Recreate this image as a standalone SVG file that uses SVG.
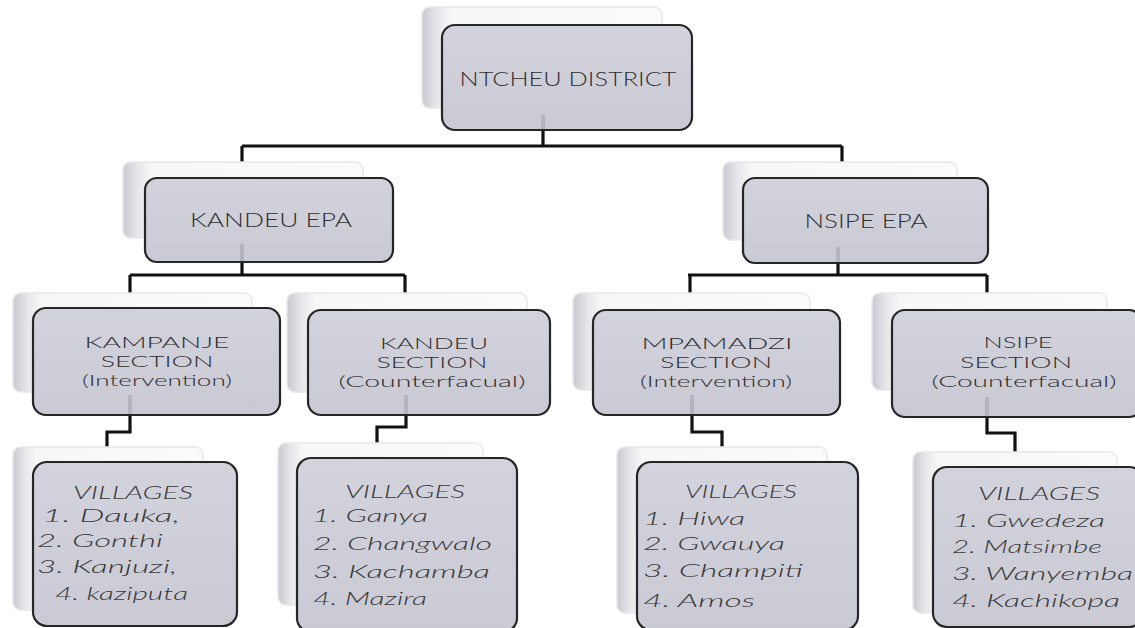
<svg xmlns="http://www.w3.org/2000/svg" width="1135" height="628" viewBox="0 0 1135 628">
<defs>
<linearGradient id="backGrad" x1="0" y1="0" x2="1" y2="0">
<stop offset="0" stop-color="#c8c8cf"/>
<stop offset="0.06" stop-color="#e6e6ea"/>
<stop offset="0.12" stop-color="#f7f7f8"/>
<stop offset="1" stop-color="#fbfbfb"/>
</linearGradient>
<linearGradient id="frontGrad" x1="0" y1="0" x2="0" y2="1">
<stop offset="0" stop-color="#d3d3dd"/>
<stop offset="1" stop-color="#cacad5"/>
</linearGradient>
<style>
.back{fill:url(#backGrad);stroke:#e8e8ea;stroke-width:1.5}
.front{fill:url(#frontGrad);stroke:#262626;stroke-width:2.2}
.hd{font-family:Lato,"Open Sans","DejaVu Sans",sans-serif;font-weight:300;fill:#2e2e2e;text-anchor:middle}
.h1{font-size:19px}
.h2{font-size:15px}
.vt{font-family:Lato,"Open Sans","DejaVu Sans",sans-serif;font-weight:300;font-style:italic;font-size:18px;fill:#383838}
.vh{text-anchor:middle}
.con{fill:none;stroke:#111;stroke-width:3.2}
.stub{fill:none;stroke:#b4b4c0;stroke-width:4}
</style>
</defs>
<rect width="1135" height="628" fill="#ffffff"/>

<g id="connectors">
<path class="con" d="M543,130 V146 M242,146 H842 M242,146 V163 M842,146 V163"/>
<path class="con" d="M242,262 V275 M130,275 H405 M130,275 V294 M405,275 V294"/>
<path class="con" d="M838,263 V275 M688,275 H987 M690,275 V294 M987,275 V294"/>
<path class="con" d="M130,415 V432 H107 V448"/>
<path class="con" d="M406,415 V427 H377 V444"/>
<path class="con" d="M692,415 V432 H722 V448"/>
<path class="con" d="M987,417 V433 H1015 V453"/>
</g>

<g id="ntcheu">
<rect class="back" x="422" y="7" width="240" height="101" rx="8"/>
<rect class="front" x="442" y="25" width="250" height="105" rx="13"/>
<line class="stub" x1="543" y1="115" x2="543" y2="129"/>
<text class="hd h1" x="568" y="86" textLength="217" lengthAdjust="spacingAndGlyphs">NTCHEU DISTRICT</text>
</g>

<g id="kandeu-epa">
<rect class="back" x="123" y="162" width="240" height="76" rx="8"/>
<rect class="front" x="145" y="178" width="248" height="84" rx="12"/>
<line class="stub" x1="242" y1="244" x2="242" y2="261"/>
<text class="hd h1" x="271" y="227" textLength="162" lengthAdjust="spacingAndGlyphs">KANDEU EPA</text>
</g>

<g id="nsipe-epa">
<rect class="back" x="723" y="162" width="234" height="78" rx="8"/>
<rect class="front" x="743" y="178" width="245" height="85" rx="12"/>
<line class="stub" x1="838" y1="247" x2="838" y2="262"/>
<text class="hd h1" x="866" y="228" textLength="123" lengthAdjust="spacingAndGlyphs">NSIPE EPA</text>
</g>

<g id="kampanje-section">
<rect class="back" x="13" y="293" width="239" height="99" rx="8"/>
<rect class="front" x="33" y="308" width="247" height="107" rx="13"/>
<line class="stub" x1="130" y1="395" x2="130" y2="414"/>
<text class="hd h2" x="157" y="348" textLength="145" lengthAdjust="spacingAndGlyphs">KAMPANJE</text>
<text class="hd h2" x="157" y="367" textLength="113" lengthAdjust="spacingAndGlyphs">SECTION</text>
<text class="hd h2" x="157" y="386" textLength="150" lengthAdjust="spacingAndGlyphs">(Intervention)</text>
</g>

<g id="kandeu-section">
<rect class="back" x="287" y="293" width="240" height="99" rx="8"/>
<rect class="front" x="308" y="310" width="242" height="105" rx="13"/>
<line class="stub" x1="406" y1="395" x2="406" y2="414"/>
<text class="hd h2" x="434" y="349" textLength="108" lengthAdjust="spacingAndGlyphs">KANDEU</text>
<text class="hd h2" x="432" y="368" textLength="111" lengthAdjust="spacingAndGlyphs">SECTION</text>
<text class="hd h2" x="432" y="387" textLength="187" lengthAdjust="spacingAndGlyphs">(Counterfacual)</text>
</g>

<g id="mpamadzi-section">
<rect class="back" x="573" y="293" width="237" height="97" rx="8"/>
<rect class="front" x="593" y="310" width="247" height="105" rx="13"/>
<line class="stub" x1="692" y1="395" x2="692" y2="414"/>
<text class="hd h2" x="717" y="349" textLength="151" lengthAdjust="spacingAndGlyphs">MPAMADZI</text>
<text class="hd h2" x="716" y="368" textLength="112" lengthAdjust="spacingAndGlyphs">SECTION</text>
<text class="hd h2" x="716" y="387" textLength="152" lengthAdjust="spacingAndGlyphs">(Intervention)</text>
</g>

<g id="nsipe-section">
<rect class="back" x="872" y="293" width="235" height="97" rx="8"/>
<rect class="front" x="892" y="310" width="250" height="107" rx="13"/>
<line class="stub" x1="987" y1="397" x2="987" y2="416"/>
<text class="hd h2" x="1018" y="348" textLength="69" lengthAdjust="spacingAndGlyphs">NSIPE</text>
<text class="hd h2" x="1016" y="368" textLength="112" lengthAdjust="spacingAndGlyphs">SECTION</text>
<text class="hd h2" x="1024" y="387" textLength="185" lengthAdjust="spacingAndGlyphs">(Counterfacual)</text>
</g>

<g id="villages-kampanje">
<rect class="back" x="13" y="447" width="190" height="163" rx="8"/>
<rect class="front" x="33" y="462" width="204" height="164" rx="14"/>
<text class="vt vh" x="133" y="499" textLength="120" lengthAdjust="spacingAndGlyphs">VILLAGES</text>
<text class="vt" x="42" y="522" textLength="138" lengthAdjust="spacingAndGlyphs">1. Dauka,</text>
<text class="vt" x="37" y="547" textLength="126" lengthAdjust="spacingAndGlyphs">2. Gonthi</text>
<text class="vt" x="37" y="573" textLength="140" lengthAdjust="spacingAndGlyphs">3. Kanjuzi,</text>
<text class="vt" x="55" y="600" textLength="133" lengthAdjust="spacingAndGlyphs">4. kaziputa</text>
</g>

<g id="villages-kandeu">
<rect class="back" x="278" y="443" width="205" height="162" rx="8"/>
<rect class="front" x="297" y="458" width="220" height="174" rx="14"/>
<text class="vt vh" x="405" y="498" textLength="120" lengthAdjust="spacingAndGlyphs">VILLAGES</text>
<text class="vt" x="312" y="522" textLength="116" lengthAdjust="spacingAndGlyphs">1. Ganya</text>
<text class="vt" x="313" y="550" textLength="179" lengthAdjust="spacingAndGlyphs">2. Changwalo</text>
<text class="vt" x="313" y="578" textLength="177" lengthAdjust="spacingAndGlyphs">3. Kachamba</text>
<text class="vt" x="313" y="605" textLength="114" lengthAdjust="spacingAndGlyphs">4. Mazira</text>
</g>

<g id="villages-mpamadzi">
<rect class="back" x="617" y="447" width="210" height="166" rx="8"/>
<rect class="front" x="637" y="462" width="221" height="168" rx="14"/>
<text class="vt vh" x="741" y="498" textLength="112" lengthAdjust="spacingAndGlyphs">VILLAGES</text>
<text class="vt" x="643" y="525" textLength="102" lengthAdjust="spacingAndGlyphs">1. Hiwa</text>
<text class="vt" x="643" y="550" textLength="142" lengthAdjust="spacingAndGlyphs">2. Gwauya</text>
<text class="vt" x="643" y="577" textLength="160" lengthAdjust="spacingAndGlyphs">3. Champiti</text>
<text class="vt" x="643" y="607" textLength="112" lengthAdjust="spacingAndGlyphs">4. Amos</text>
</g>

<g id="villages-nsipe">
<rect class="back" x="913" y="452" width="204" height="161" rx="8"/>
<rect class="front" x="933" y="467" width="210" height="160" rx="14"/>
<text class="vt vh" x="1039" y="500" textLength="122" lengthAdjust="spacingAndGlyphs">VILLAGES</text>
<text class="vt" x="952" y="527" textLength="153" lengthAdjust="spacingAndGlyphs">1. Gwedeza</text>
<text class="vt" x="952" y="553" textLength="150" lengthAdjust="spacingAndGlyphs">2. Matsimbe</text>
<text class="vt" x="952" y="580" textLength="181" lengthAdjust="spacingAndGlyphs">3. Wanyemba</text>
<text class="vt" x="952" y="607" textLength="168" lengthAdjust="spacingAndGlyphs">4. Kachikopa</text>
</g>
</svg>
